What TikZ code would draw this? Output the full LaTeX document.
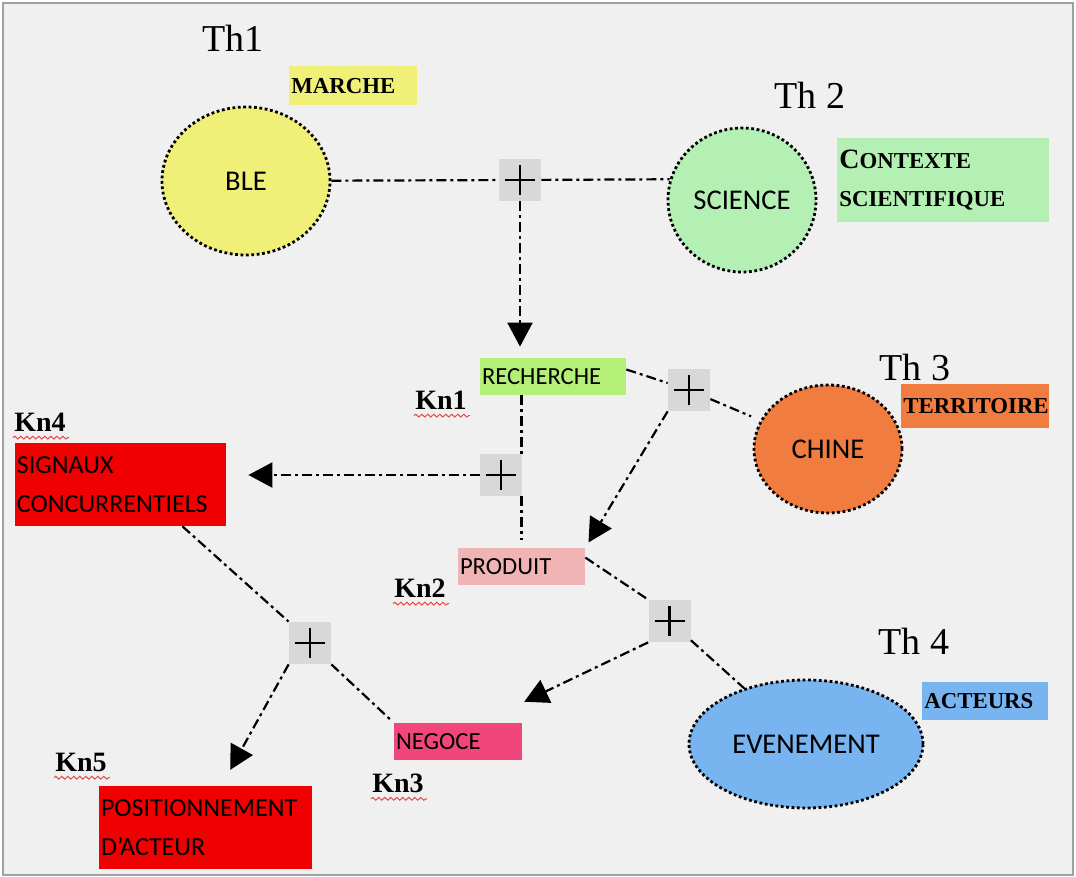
\documentclass[tikz,border=0pt]{standalone}
\usepackage{fontspec}
\setmainfont{Liberation Serif}
\newfontfamily\calib{Carlito}
\usetikzlibrary{shapes.geometric, arrows.meta, decorations.pathmorphing}
\definecolor{bgc}{HTML}{F0F0F0}
\definecolor{frm}{HTML}{A0A0A0}
\definecolor{ylw}{HTML}{F0F078}
\definecolor{lgrn}{HTML}{B4F0B4}
\definecolor{lime}{HTML}{B4F078}
\definecolor{orng}{HTML}{F07C40}
\definecolor{rose}{HTML}{F0B4B4}
\definecolor{pinkred}{HTML}{F0467C}
\definecolor{sred}{HTML}{F00000}
\definecolor{lblu}{HTML}{78B4F0}
\definecolor{plg}{HTML}{D8D8D8}
\definecolor{wavy}{HTML}{E84848}

\begin{document}
\begin{tikzpicture}[x=0.5pt, y=-0.5pt,
        cloud/.style={draw, ellipse, line width=1.4pt, dash pattern=on 1.4pt off 1.3pt, inner sep=0pt, font=\calib\fontsize{14.3}{17}\selectfont},
        box/.style={rectangle, inner sep=1pt, align=left, minimum height=18.5pt, font=\calib\fontsize{12.3}{14}\selectfont},
        bigbox/.style={rectangle, inner sep=1pt, align=left, fill=sred, minimum height=41.5pt, font=\calib\fontsize{13}{19.5}\selectfont},
        tag/.style={rectangle, anchor=north west, inner sep=1pt, align=left, font=\bfseries\fontsize{11.4}{19}\selectfont},
        pl/.style={rectangle, fill=plg, minimum size=21pt, inner sep=0pt,
            path picture={\draw[line width=1.3pt] ([xshift=-7.5pt]path picture bounding box.center) -- ([xshift=7.5pt]path picture bounding box.center)
                ([yshift=-7.5pt]path picture bounding box.center) -- ([yshift=7.5pt]path picture bounding box.center);}},
        th/.style={inner sep=0pt, font=\fontsize{19}{22}\selectfont},
        kn/.style={inner sep=0pt, font=\bfseries\fontsize{14}{16}\selectfont},
        squig/.style={draw=wavy, line width=0.5pt, decorate, decoration={snake, amplitude=0.7pt, segment length=3pt}},
        link/.style={line width=1.1pt, dash pattern=on 5pt off 2pt on 1.5pt off 2pt},
        arr/.style={link, -{Triangle[width=12.5pt, length=12pt]}}
    ]
        \useasboundingbox (0,0) rectangle (1076,877);
        \fill[white] (0,0) rectangle (1076,877);
        \draw[fill=bgc, draw=frm, line width=1pt] (3,3) rectangle (1073,875);

        \node[th] (th1) at (233,38) {Th1};
        \node[th] (th2) at (810,95) {Th 2};
        \node[th] (th3) at (915,368) {Th 3};
        \node[th] (th4) at (914,641) {Th 4};

        \node[cloud, fill=ylw, minimum width=84pt, minimum height=74pt] (ble) at (246,181) {BLE};
        \node[cloud, fill=lgrn, minimum width=74pt, minimum height=72pt] (sci) at (742,200) {SCIENCE};
        \node[cloud, fill=orng, minimum width=74pt, minimum height=64pt] (chine) at (828,449) {CHINE};
        \node[cloud, fill=lblu, minimum width=117pt, minimum height=64pt] (evt) at (806,744) {EVENEMENT};

        \node[tag, fill=ylw, text width=62pt, minimum height=19.5pt] (marche) at (289,66) {MARCHE};
        \node[tag, fill=lgrn, text width=104pt, minimum height=42pt] (ctx) at (837,138) {{\fontsize{14}{19}\selectfont C}ONTEXTE\\SCIENTIFIQUE};
        \node[tag, fill=orng, text width=72pt, minimum height=22pt] (terr) at (901,384) {TERRITOIRE};
        \node[tag, fill=lblu, text width=61pt, minimum height=19pt] (act) at (922,682) {ACTEURS};

        \node[box, fill=lime, text width=71pt] (rech) at (553,376.5) {RECHERCHE};
        \node[box, fill=rose, text width=61.5pt] (prod) at (521.5,566.5) {PRODUIT};
        \node[box, fill=pinkred, text width=62pt] (neg) at (458,741.5) {NEGOCE};
        \node[bigbox, text width=103.5pt] (sig) at (120.5,484.5) {SIGNAUX\\CONCURRENTIELS};
        \node[bigbox, text width=104.5pt] (pos) at (205.5,827.5) {POSITIONNEMENT\\D’ACTEUR};

        \node[pl] (p1) at (520,180) {};
        \node[pl] (p2) at (501,475) {};
        \node[pl] (p3) at (310,643) {};
        \node[pl] (p4) at (689,390) {};
        \node[pl] (p5) at (669.5,621) {};

        \node[kn] (kn1) at (441,400) {Kn1};
        \node[kn] (kn2) at (420,588) {Kn2};
        \node[kn] (kn3) at (398,783) {Kn3};
        \node[kn] (kn4) at (40,422) {Kn4};
        \node[kn] (kn5) at (81,762) {Kn5};
        \foreach \k in {kn1,kn2,kn3,kn4,kn5}
            \draw[squig] ([xshift=-0.5pt,yshift=-3pt]\k.south west) -- ([xshift=1.5pt,yshift=-3pt]\k.south east);

        \draw[link] (ble) -- (p1);
        \draw[link] (p1) -- (sci.164);
        \draw[arr, shorten >=5.5pt] (p1) -- (p1 |- rech.north);
        \draw[link] (rech.south -| prod.north) -- (p2.north -| prod.north);
        \draw[link, shorten >=4pt] (p2.south -| prod.north) -- (prod.north);
        \draw[arr, shorten >=11pt] (p2) -- (p2 -| sig.east);
        \draw[link] ([yshift=3.5pt]rech.east) -- (p4);
        \draw[link, shorten >=5pt] (p4) -- (chine);
        \draw[arr, shorten >=3pt] (p4.south west) -- (prod.north east);
        \draw[link] ([yshift=-5pt]prod.north east) -- (p5.north west);
        \draw[arr, shorten >=1pt] (p5.south west) -- ([yshift=10pt]neg.north east);
        \draw[link] (p5) -- (evt);
        \draw[link] ([xshift=31pt]sig.south) -- (p3.north west);
        \draw[arr, shorten >=9pt] (p3.south west) -- ([xshift=8pt]pos.north);
        \draw[link, shorten >=2pt] (p3.south east) -- (neg.north west);
    \end{tikzpicture}
\end{document}
